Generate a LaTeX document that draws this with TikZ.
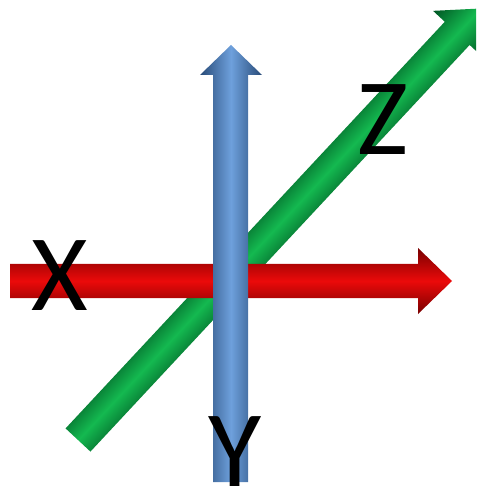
\documentclass[tikz,border=0pt]{standalone}
\usepackage{fontspec}
\setmainfont{Carlito}
\definecolor{axred}{RGB}{235,10,10}
\definecolor{axreddark}{RGB}{120,0,0}
\definecolor{axblue}{RGB}{110,160,220}
\definecolor{axbluedark}{RGB}{40,75,120}
\definecolor{axgreen}{RGB}{20,185,80}
\definecolor{axgreendark}{RGB}{0,85,35}
\tikzset{
  axlabel/.style={inner sep=0pt,font=\fontsize{62}{62}\selectfont,text=black},
}
\begin{document}
\begin{tikzpicture}[x=0.02cm,y=-0.02cm]
\useasboundingbox (0,0) rectangle (476,499);
\clip (0,0) rectangle (476,499);

% Z axis (green, behind)
\begin{scope}[transform canvas={shift={(78,440)},rotate=47}]
\shade[top color=axgreendark,bottom color=axgreendark,middle color=axgreen]
  (0,-17) -- (556,-17) -- (556,-33) -- (590,0) -- (556,33) -- (556,17) -- (0,17) -- cycle;
\end{scope}

% X axis (red)
\shade[top color=axreddark,bottom color=axreddark,middle color=axred]
  (10,264) -- (418,264) -- (418,248) -- (452,281) -- (418,314) -- (418,298) -- (10,298) -- cycle;

% Y axis (blue, in front)
\shade[left color=axbluedark,right color=axbluedark,middle color=axblue]
  (213,482) -- (213,75) -- (200,75) -- (231,45) -- (262,75) -- (248,75) -- (248,482) -- cycle;

% Labels
\node[axlabel] (xlab) at (60,276) {X};
\node[axlabel] (ylab) at (235,452) {Y};
\node[axlabel] (zlab) at (383,120) {Z};
\end{tikzpicture}
\end{document}
